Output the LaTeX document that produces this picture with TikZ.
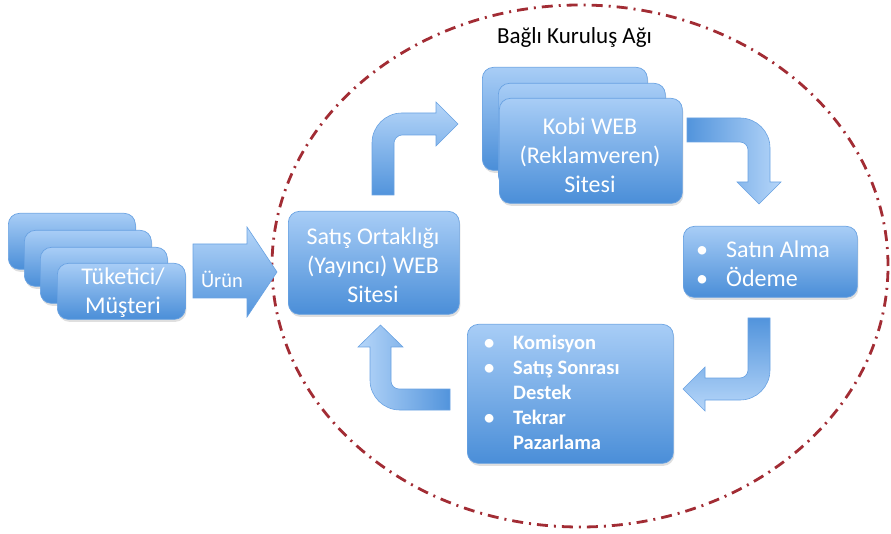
\documentclass[tikz,border=0pt]{standalone}
\usepackage{fontspec}
\setmainfont{Carlito}
\usetikzlibrary{shadows}
\definecolor{boxtop}{RGB}{168,205,246}
\definecolor{boxbot}{RGB}{74,142,216}
\definecolor{boxedge}{RGB}{105,162,226}
\definecolor{arrlight}{RGB}{182,214,249}
\definecolor{arrdark}{RGB}{82,148,220}
\definecolor{ringred}{RGB}{162,44,52}
\begin{document}
\begin{tikzpicture}[x=1pt,y=-1pt,
  box/.style={rounded corners=11pt, top color=boxtop, bottom color=boxbot,
    draw=boxedge, line width=0.7pt,
    drop shadow={opacity=0.25,shadow xshift=1pt,shadow yshift=-2.5pt},
    inner sep=0pt, anchor=north west},
  arrowsty/.style={draw=boxedge, line width=0.6pt},
  wtext/.style={text=white, font=\fontsize{24}{29}\selectfont, align=center, inner sep=0pt},
  ltext/.style={text=white, font=\fontsize{24}{29}\selectfont, align=left, inner sep=0pt, anchor=west},
  btext/.style={text=white, font=\fontsize{20.5}{25}\selectfont\bfseries, align=left, inner sep=0pt, anchor=west},
  ring/.style={draw=ringred, line width=2.8pt, dash pattern=on 11pt off 6pt on 2pt off 6pt}
]
\useasboundingbox (0,0) rectangle (891,534);

% dashed network ring
\draw[ring] (580,266) ellipse [x radius=308pt, y radius=261pt];
\node[font=\fontsize{23}{27}\selectfont, inner sep=0pt] (title) at (574.5,37.5) {Bağlı Kuruluş Ağı};

% consumer stack
\node[box, minimum width=127pt, minimum height=56pt] (t1) at (8,213) {};
\node[box, minimum width=127pt, minimum height=56pt] (t2) at (24,230) {};
\node[box, minimum width=127pt, minimum height=56pt] (t3) at (40,247) {};
\node[box, minimum width=128pt, minimum height=56pt] (t4) at (57,263) {};
\node[wtext] (ttext) at (123,293) {Tüketici/\\Müşteri};

% Ürün arrow
\path[arrowsty, top color=arrlight, bottom color=arrdark]
  (193,244) -- (247,244) -- (247,227) -- (277,272) -- (247,317) -- (247,298) -- (193,298) -- cycle;
\node[wtext, font=\fontsize{20.5}{24}\selectfont] (urun) at (222,279) {Ürün};

% affiliate site
\node[box, minimum width=171pt, minimum height=103pt] (sat) at (288,211) {};
\node[wtext] (sattext) at (373,265) {Satış Ortaklığı\\(Yayıncı) WEB\\Sitesi};

% Kobi stack
\node[box, minimum width=165pt, minimum height=103pt] (k1) at (482,67) {};
\node[box, minimum width=167pt, minimum height=103pt] (k2) at (498,83) {};
\node[box, minimum width=183pt, minimum height=105pt] (k3) at (499,98) {};
\node[wtext] (ktext) at (590,155) {Kobi WEB\\(Reklamveren)\\Sitesi};

% purchase box
\node[box, minimum width=174pt, minimum height=71pt] (buy) at (683,226) {};
\node[ltext] (buytext) at (696,263.5) {\makebox[30pt][l]{•}Satın Alma\\\makebox[30pt][l]{•}Ödeme};

% commission box
\node[box, minimum width=206pt, minimum height=139pt] (com) at (467,324) {};
\node[btext] (comtext) at (484,392.5) {\makebox[29pt][l]{•}Komisyon\\\makebox[29pt][l]{•}Satış Sonrası\\\hspace*{29pt}Destek\\\makebox[29pt][l]{•}Tekrar\\\hspace*{29pt}Pazarlama};

% bent arrow: up then right
\path[arrowsty, top color=arrlight, bottom color=arrdark]
  (372,195) -- (372,143) .. controls (372,126.4) and (385.4,113) .. (402,113)
  -- (436,113) -- (436,102) -- (458,124) -- (436,146) -- (436,135) -- (402,135)
  .. controls (397.6,135) and (394,139.4) .. (394,143) -- (394,195) -- cycle;

% bent arrow: right then down
\path[arrowsty, left color=arrdark, right color=arrlight]
  (687,118) -- (740,118) .. controls (756.6,118) and (770,131.4) .. (770,148)
  -- (770,182) -- (781,182) -- (759,204) -- (737,182) -- (748,182) -- (748,150)
  .. controls (748,145.6) and (744.4,142) .. (740,142) -- (687,142) -- cycle;

% bent arrow: down then left
\path[arrowsty, top color=arrdark, bottom color=arrlight]
  (748,318) -- (770,318) -- (770,370) .. controls (770,386.6) and (756.6,400) .. (740,400)
  -- (705,400) -- (705,411) -- (683,389) -- (705,367) -- (705,378) -- (740,378)
  .. controls (744.4,378) and (748,374.4) .. (748,370) -- cycle;

% bent arrow: left then up
\path[arrowsty, left color=arrlight, right color=arrdark]
  (450,389) -- (450,410) -- (400,410) .. controls (383.4,410) and (370,396.6) .. (370,380)
  -- (370,347) -- (358,347) -- (380.5,325) -- (403,347) -- (391,347) -- (391,381)
  .. controls (391,385.4) and (394.6,389) .. (399,389) -- cycle;
\end{tikzpicture}
\end{document}
